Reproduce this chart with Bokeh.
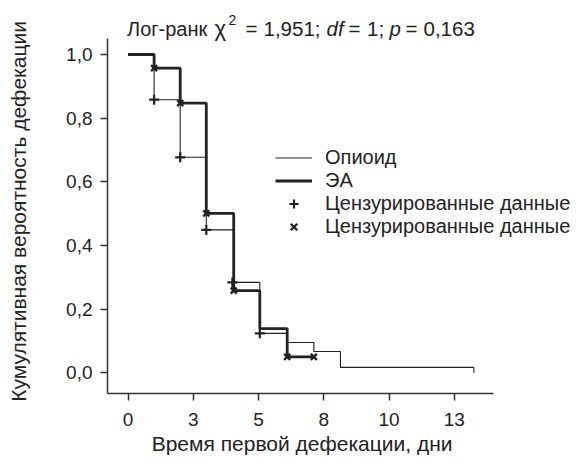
import math
from bokeh.plotting import figure
from bokeh.models import Legend, LegendItem, Label, FixedTicker, Range1d
from bokeh.embed import file_html
from bokeh.resources import INLINE

# ---- data ----
opioid_t = [0, 1.0, 2.0, 3.0, 4.05, 5.05, 6.1, 7.12, 8.14, 13.25, 13.25]
opioid_s = [1.0, 0.858, 0.677, 0.449, 0.284, 0.124, 0.095, 0.067, 0.017, 0.017, 0.0]
ea_t = [0, 1.0, 2.0, 3.0, 4.05, 5.05, 6.1, 7.12]
ea_s = [1.0, 0.957, 0.847, 0.501, 0.258, 0.139, 0.05, 0.05]
opioid_cens_t = [1.0, 2.0, 3.0, 4.0, 5.05]
opioid_cens_s = [0.858, 0.677, 0.449, 0.284, 0.124]
ea_cens_t = [1.0, 2.0, 3.0, 4.05, 6.1, 7.12]
ea_cens_s = [0.957, 0.847, 0.501, 0.258, 0.05, 0.05]
x_ticks = [0, 2.5, 5, 7.5, 10, 12.5]
x_tick_labels = ["0", "3", "5", "8", "10", "13"]
y_ticks = [0, 0.2, 0.4, 0.6, 0.8, 1.0]
y_tick_labels = ["0,0", "0,2", "0,4", "0,6", "0,8", "1,0"]
legend_labels = ["Опиоид", "ЭА", "Цензурированные данные", "Цензурированные данные"]
x_title = "Время первой дефекации, дни"
y_title = "Кумулятивная вероятность дефекации"

FONT = "Liberation Sans"
INK = "#222222"

# the axes are drawn only over the data area; the frame covers the whole
# canvas so that title, legend and axis titles are not clipped
X_AXIS = (-0.785, 14.0)
Y_AXIS = (-0.065, 1.05)

p = figure(width=584, height=460,
           x_range=Range1d(-4.885, 17.49), y_range=Range1d(-0.2755, 1.1697),
           output_backend="svg", toolbar_location=None,
           min_border_left=0, min_border_right=0, min_border_top=0, min_border_bottom=0)
p.outline_line_color = None
p.xgrid.visible = False
p.ygrid.visible = False
p.background_fill_color = "white"
p.border_fill_color = "white"

for ax in (p.xaxis[0], p.yaxis[0]):
    ax.axis_line_width = 1.5
    ax.axis_line_color = "#333333"
    ax.major_tick_line_width = 1.5
    ax.major_tick_line_color = "#333333"
    ax.major_tick_out = 7
    ax.major_tick_in = 0
    ax.minor_tick_out = 0
    ax.minor_tick_in = 0
    ax.major_label_text_font = FONT
    ax.major_label_text_font_size = "19px"
    ax.major_label_text_color = INK

p.xaxis.bounds = X_AXIS
p.yaxis.bounds = Y_AXIS
p.xaxis.fixed_location = Y_AXIS[0]
p.yaxis.fixed_location = X_AXIS[0]
p.xaxis.ticker = FixedTicker(ticks=x_ticks)
p.xaxis.major_label_overrides = {float(k): v for k, v in zip(x_ticks, x_tick_labels)}
p.yaxis.ticker = FixedTicker(ticks=y_ticks)
p.yaxis.major_label_overrides = {float(k): v for k, v in zip(y_ticks, y_tick_labels)}
p.xaxis.major_label_standoff = 13
p.yaxis.major_label_standoff = 8

r_op = p.step(opioid_t, opioid_s, mode="after", line_width=1.1, line_color=INK)
r_ea = p.step(ea_t, ea_s, mode="after", line_width=2.8, line_color=INK)
r_pc = p.scatter(opioid_cens_t, opioid_cens_s, marker="cross", size=10,
                 line_width=2.2, line_color=INK)
r_ec = p.scatter(ea_cens_t, ea_cens_s, marker="x", size=8.5,
                 line_width=2.4, line_color=INK)

legend = Legend(items=[LegendItem(label=legend_labels[0], renderers=[r_op]),
                       LegendItem(label=legend_labels[1], renderers=[r_ea]),
                       LegendItem(label=legend_labels[2], renderers=[r_pc]),
                       LegendItem(label=legend_labels[3], renderers=[r_ec])],
                location=(275, 222), padding=0, margin=0, spacing=0,
                glyph_width=37, glyph_height=23, label_height=23, label_standoff=13,
                border_line_color=None, background_fill_alpha=0,
                label_text_font=FONT, label_text_font_size="20px", label_text_color=INK)
p.add_layout(legend, "center")

# axis titles
p.add_layout(Label(x=6.67, y=-0.222, text=x_title, text_font=FONT,
                   text_font_size="21px", text_color=INK,
                   text_align="center", text_baseline="middle"))
p.add_layout(Label(x=-4.2, y=0.507, text=y_title, text_font=FONT, angle=math.pi / 2,
                   text_font_size="21px", text_color=INK,
                   text_align="center", text_baseline="middle"))

# title pieces (mixed upright / italic / superscript), screen px from bottom-left
title_parts = [("Лог-ранк", 126.5, 431.7, "normal", "20px"),
               ("χ", 214, 431.7, "normal", "22px"),
               ("2", 228, 441, "normal", "14px"),
               ("=", 245, 431.7, "normal", "20.5px"),
               ("1,951;", 263, 431.7, "normal", "20.5px"),
               ("df", 326, 431.7, "italic", "20.5px"),
               ("=", 348, 431.7, "normal", "20.5px"),
               ("1;", 366.5, 431.7, "normal", "20.5px"),
               ("p", 389, 431.7, "italic", "20.5px"),
               ("=", 405, 431.7, "normal", "20.5px"),
               ("0,163", 423, 431.7, "normal", "20.5px")]
for txt, x, y, style, size in title_parts:
    p.add_layout(Label(x=x, y=y, x_units="screen", y_units="screen", text=txt,
                       text_font=FONT, text_font_size=size, text_font_style=style,
                       text_color=INK, text_baseline="alphabetic", text_align="left"))

open("out.html", "w").write(file_html(p, INLINE))
